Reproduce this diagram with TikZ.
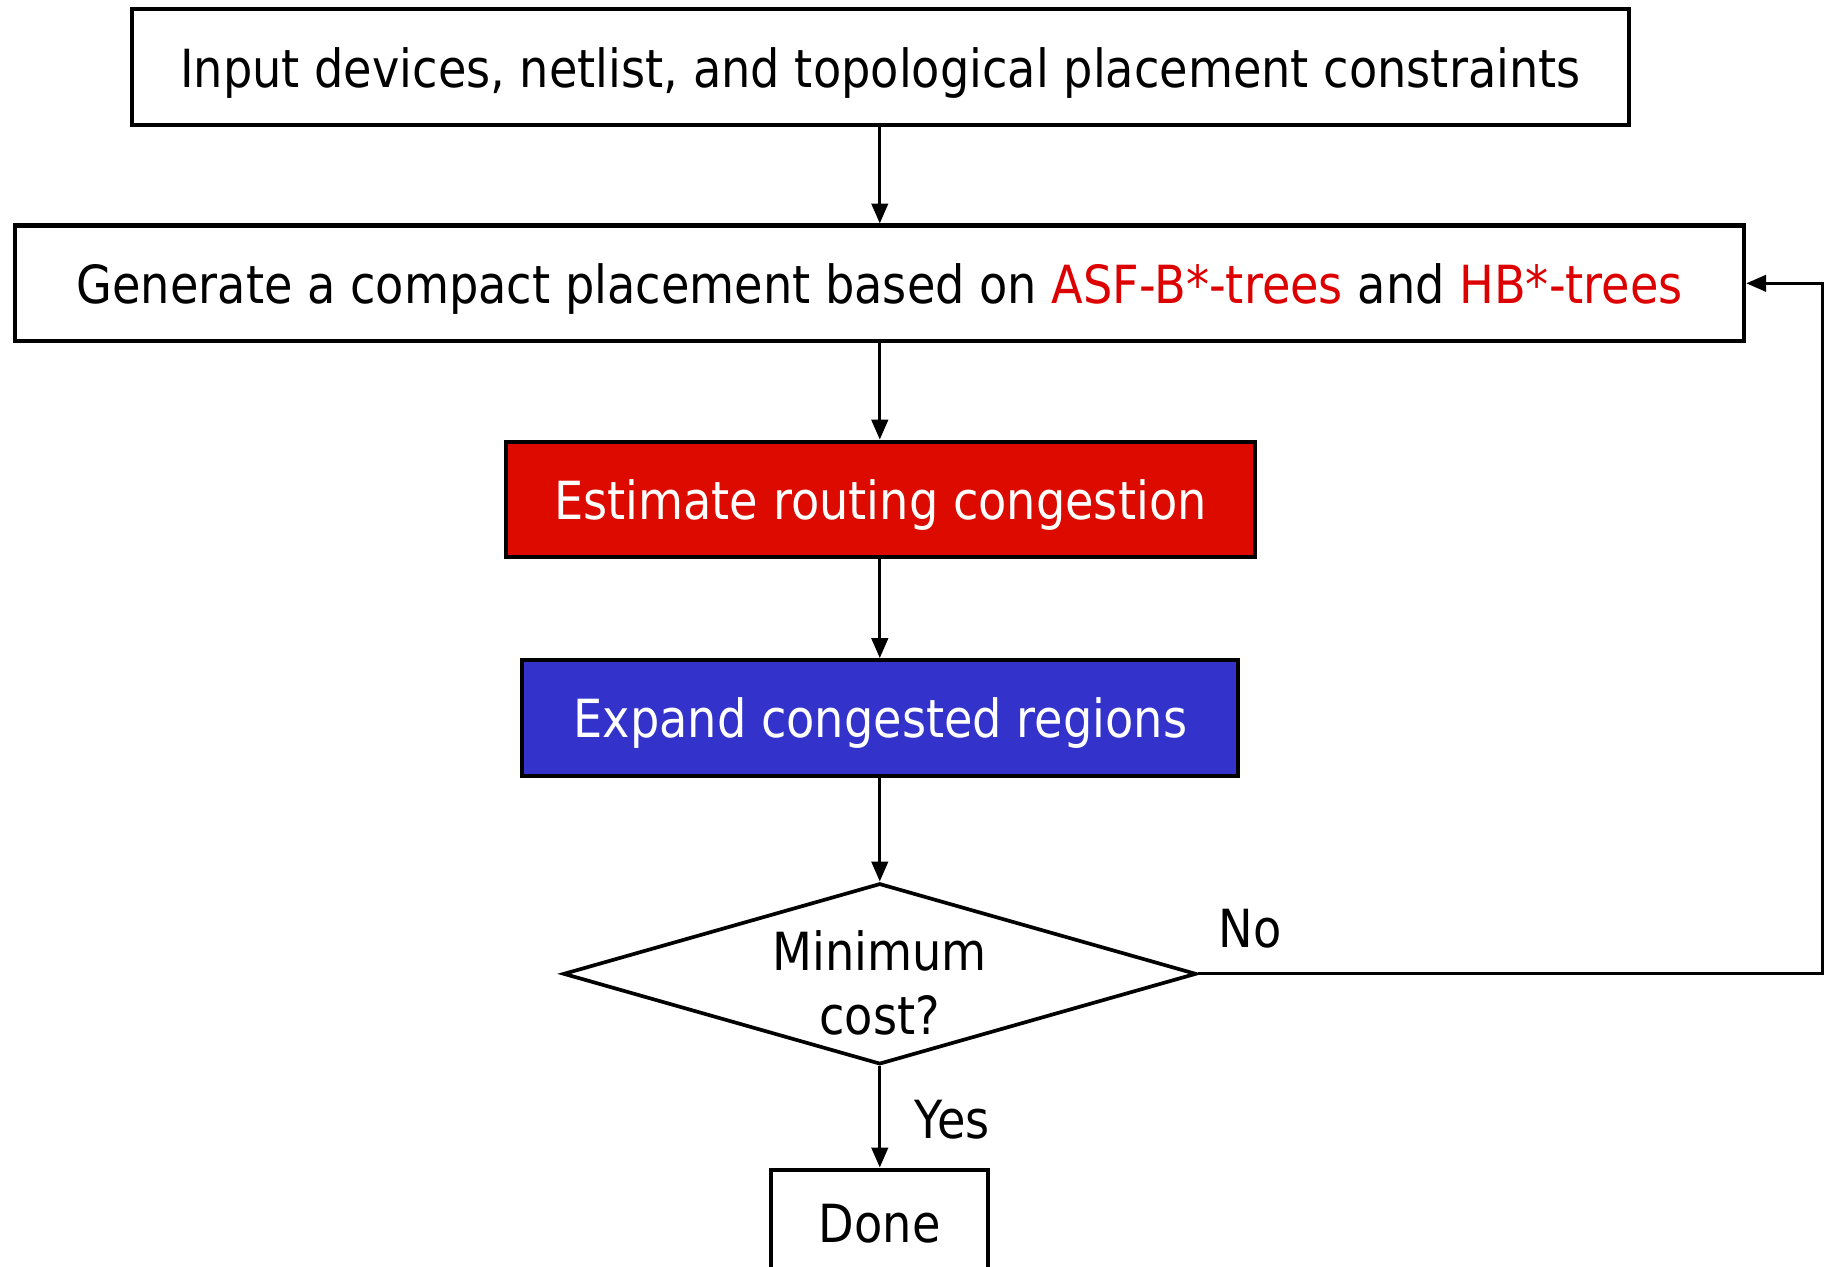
\documentclass[tikz,border=0pt]{standalone}
\usepackage{fontspec}
\setmainfont{DejaVu Sans}[FakeStretch=0.88]
\usetikzlibrary{shapes.geometric,arrows.meta}
\definecolor{boxred}{RGB}{221,10,0}
\definecolor{boxblue}{RGB}{51,51,204}
\definecolor{txtred}{RGB}{221,0,0}
\begin{document}
\begin{tikzpicture}[x=0.02cm,y=-0.02cm,
  every node/.style={font=\fontsize{25.6pt}{31pt}\selectfont},
  stepbox/.style={draw=black,line width=2pt,rectangle,inner sep=0pt,minimum height=1.98cm,text height=19.5pt,text depth=0pt},
  decision/.style={draw=black,line width=1.8pt,diamond,inner sep=0pt,minimum width=10.84cm,minimum height=3.1cm},
  flow/.style={line width=1.5pt,-{Triangle[length=0.34cm,width=0.28cm]}},
  lbl/.style={inner sep=0pt}]
\useasboundingbox (0,0) rectangle (1568,1084);
\node[stepbox,minimum width=25.62cm] (input) at (753.5,57.5)
  {Input devices, netlist, and topological placement constraints};
\node[stepbox,minimum width=29.6cm] (gen) at (753,242.5)
  {Generate a compact placement based on \textcolor{txtred}{ASF-B*-trees} and \textcolor{txtred}{HB*-trees}};
\node[stepbox,fill=boxred,text=white,minimum width=12.82cm] (est) at (753.5,427.5)
  {Estimate routing congestion};
\node[stepbox,fill=boxblue,text=white,minimum width=12.26cm] (exp) at (753.5,614.5)
  {Expand congested regions};
\node[decision] (dec) at (753,833.5) {};
\node[lbl,align=center] (dectext) at (753,841) {Minimum\\cost?};
\node[stepbox,minimum width=3.72cm,minimum height=2cm] (done) at (753,1051) {};
\node[lbl] (donetext) at (753,1047) {Done};
\coordinate (fbr) at (1560,833.5);
\coordinate (fbt) at (1560,242.5);
\draw[flow] (input.south -| dec.north) -- (gen.north -| dec.north);
\draw[flow] (gen.south -| dec.north) -- (est.north -| dec.north);
\draw[flow] (est.south -| dec.north) -- (exp.north -| dec.north);
\draw[flow] (exp.south -| dec.north) -- (dec.north);
\draw[flow] (dec.south) -- (done.north -| dec.south);
\draw[flow] (dec.east) -- (fbr) -- (fbt) -- (gen.east);
\node[lbl] (no) at (1070,795) {No};
\node[lbl] (yes) at (815,958) {Yes};
\end{tikzpicture}
\end{document}
